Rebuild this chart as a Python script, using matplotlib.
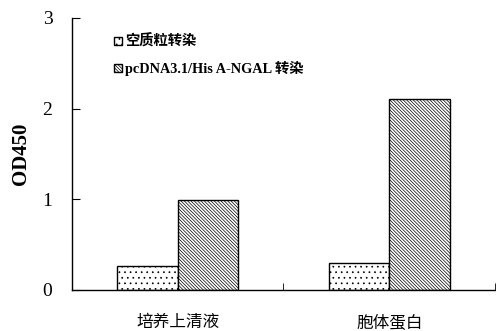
import matplotlib
matplotlib.use("Agg")
from matplotlib import pyplot as plt
import numpy as np

plt.rcParams['hatch.linewidth'] = 0.5

# data
categories = ['培养上清液', '胞体蛋白']
series_names = ['空质粒转染', 'pcDNA3.1/His A-NGAL 转染']
empty_vals = [0.26, 0.30]
ngal_vals = [0.99, 2.10]

fig = plt.figure(figsize=(4.96, 3.31), dpi=100)
ax = fig.add_axes([0.145, 0.124, 0.853, 0.822])

x = np.arange(len(categories))
w = 0.285
b1 = ax.bar(x - w/2, empty_vals, w, color='white', edgecolor='black',
            linewidth=1.0, hatch='...', label=series_names[0])
b2 = ax.bar(x + w/2, ngal_vals, w, color='white', edgecolor='black',
            linewidth=1.0, hatch='\\' * 10, label=series_names[1])

ax.set_xlim(-0.5, 1.5)
ax.set_ylim(0, 3)
ax.set_yticks([0, 1, 2, 3])
ax.set_yticklabels(['0', '1', '2', '3'], family='Liberation Serif', fontsize=14)
ax.set_xticks(x)
ax.set_xticklabels(categories, family=['Noto Sans CJK SC'], fontsize=12)
ax.set_xticks([0.5, 1.5], minor=True)
ax.tick_params(axis='x', which='major', length=0, pad=17)
ax.tick_params(axis='x', which='minor', direction='in', length=5)
ax.tick_params(axis='y', direction='in', length=6, pad=14)

for s in ['top', 'right']:
    ax.spines[s].set_visible(False)
ax.spines['left'].set_linewidth(1.0)
ax.spines['bottom'].set_linewidth(1.0)

ax.set_ylabel('OD450', family='Liberation Serif', fontweight='bold',
              fontsize=15, labelpad=8)

leg = ax.legend(loc='upper left', bbox_to_anchor=(0.07, 0.985), frameon=False,
                handlelength=0.5, handleheight=0.5, handletextpad=0.25,
                labelspacing=0.85,
                prop={'family': ['Liberation Serif', 'Noto Sans CJK SC'],
                      'weight': 'bold', 'size': 10.3})

fig.savefig('out.png', dpi=100)
